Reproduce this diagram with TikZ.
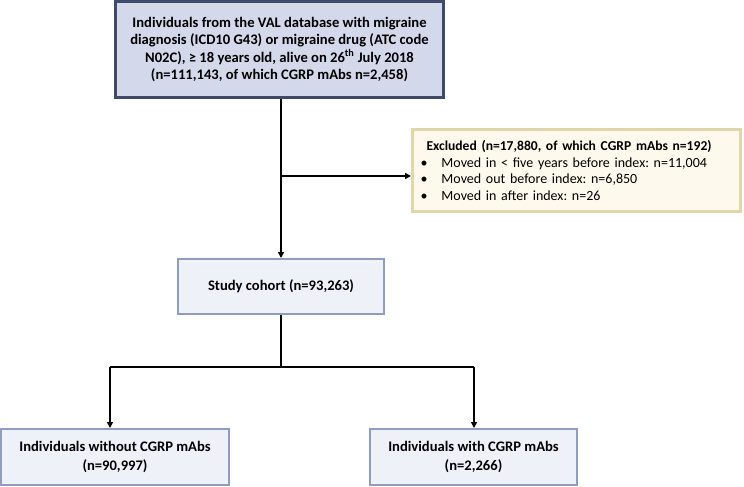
\documentclass[tikz,border=0pt]{standalone}
\usepackage{fontspec}
\setmainfont{Carlito}
\usetikzlibrary{arrows.meta}

\definecolor{topfill}{HTML}{D3D8EB}
\definecolor{topedge}{HTML}{404B6C}
\definecolor{exclfill}{HTML}{FDF9EC}
\definecolor{excledge}{HTML}{E2D5AC}
\definecolor{cohfill}{HTML}{EEF1F8}
\definecolor{cohedge}{HTML}{8F9DC3}

\tikzset{
  topbox/.style={draw=topedge, fill=topfill, line width=3pt, align=center,
    minimum width=328pt, minimum height=96pt, inner sep=0pt,
    font=\fontsize{14.6}{17.4}\selectfont\bfseries},
  exclbox/.style={draw=excledge, fill=exclfill, line width=3pt, align=left,
    text width=312pt, inner xsep=8pt, minimum height=82pt, inner ysep=0pt,
    font=\frenchspacing\fontsize{14}{16.8}\selectfont},
  cohortbox/.style={draw=cohedge, fill=cohfill, line width=2pt, align=center,
    inner sep=0pt, font=\fontsize{14.6}{19}\selectfont\bfseries},
  flow/.style={line width=1.6pt, -{Triangle[length=6pt,width=6pt]}},
  link/.style={line width=1.6pt}
}

\begin{document}
\begin{tikzpicture}[x=1pt,y=-1pt]
\useasboundingbox (0,0) rectangle (744,487);

\node [topbox] at (279.5, 49.5) (source)
  {Individuals from the VAL database with migraine\\
   diagnosis (ICD10 G43) or migraine drug (ATC code\\
   N02C), ≥ 18 years old, alive on 26\textsuperscript{th} July 2018\\
   (n=111,143, of which CGRP mAbs n=2,458)};
\node [exclbox] at (576.5, 170.5) (excluded)
  {\hspace*{6pt}{\fontsize{13.6}{16.8}\selectfont\bfseries Excluded (n=17,880, of which CGRP mAbs n=192)}\\
   \makebox[21pt][l]{•}Moved in < five years before index: n=11,004\\
   \makebox[21pt][l]{•}Moved out before index: n=6,850\\
   \makebox[21pt][l]{•}Moved in after index: n=26};
\node [cohortbox, minimum width=206pt, minimum height=55pt] at (281, 286.5) (cohort)
  {Study cohort (n=93,263)};
\node [cohortbox, minimum width=228pt, minimum height=56pt] at (115, 457) (without)
  {Individuals without CGRP mAbs\\(n=90,997)};
\node [cohortbox, minimum width=207pt, minimum height=56pt] at (473.5, 457) (with)
  {Individuals with CGRP mAbs\\(n=2,266)};

% exclusion branch
\coordinate (split) at (281, 176);
\draw [flow] (cohort.north |- source.south) -- (cohort.north);
\draw [flow] (split) -- (split -| excluded.west);

% split of the cohort
\coordinate (fork) at (281, 367);
\coordinate (forkL) at (110, 367);
\coordinate (forkR) at (474, 367);
\draw [link] (cohort.south) -- (fork);
\draw [link] (forkL) -- (forkR);
\draw [flow] (forkL) -- (forkL |- without.north);
\draw [flow] (forkR) -- (forkR |- with.north);
\end{tikzpicture}
\end{document}
